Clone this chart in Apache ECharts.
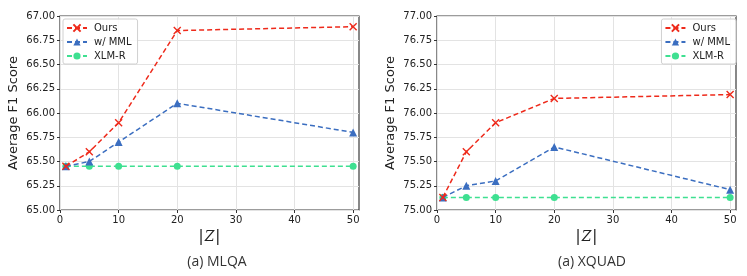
<!DOCTYPE html>
<html><head><meta charset="utf-8">
<script src="https://cdn.jsdelivr.net/npm/echarts@6/dist/echarts.min.js"></script>
<style>html,body{margin:0;padding:0;background:#fff}#c{width:747px;height:276px}</style>
</head><body><div id="c"></div>
<script>
const xValues = [1, 5, 10, 20, 50];
const mlqaOurs = [65.45, 65.60, 65.90, 66.85, 66.89];
const mlqaMML = [65.45, 65.50, 65.70, 66.10, 65.80];
const mlqaXLMR = [65.45, 65.45, 65.45, 65.45, 65.45];
const xquadOurs = [75.13, 75.60, 75.90, 76.15, 76.19];
const xquadMML = [75.13, 75.25, 75.30, 75.65, 75.21];
const xquadXLMR = [75.13, 75.13, 75.13, 75.13, 75.13];
const seriesNames = ['Ours', 'w/ MML', 'XLM-R'];
const captions = ['(a) MLQA', '(a) XQUAD'];
const xTicks = [0, 10, 20, 30, 40, 50];

const colors = ['#ee2a1b', '#3b6ec0', '#3ee091'];
const xPath = 'path://M0,0L10,10M10,0L0,10';
const symbols = [xPath, 'triangle', 'circle'];
const sizes = [7, 8, 7];

function pair(ys){ return xValues.map((x,i)=>[x, ys[i]]); }

const grids = [
  {left:60, top:16, width:299, height:194},
  {left:437, top:16, width:299, height:194}
];
const yRanges = [[65,67],[75,77]];
const data = [[mlqaOurs, mlqaMML, mlqaXLMR],[xquadOurs, xquadMML, xquadXLMR]];

const option = {
  animation:false,
  grid: grids.map(g=>Object.assign({show:true, borderColor:'#3a3a3a', borderWidth:1.2, backgroundColor:'transparent'}, g)),
  xAxis: grids.map((g,i)=>({
    type:'value', gridIndex:i, min:0, max:51, interval:10,
    name:'{b||}{z|Z}{b||}', nameLocation:'middle', nameGap:18,
    nameTextStyle:{rich:{
      b:{fontFamily:'DejaVu Sans', fontSize:15, color:'#222'},
      z:{fontFamily:'DejaVu Serif', fontStyle:'italic', fontSize:14, color:'#222', padding:[0,1,0,1]}
    }},
    axisLine:{show:false},
    axisTick:{show:true, length:3, lineStyle:{color:'#333'}, customValues:xTicks},
    axisLabel:{fontFamily:'DejaVu Sans', fontSize:10, color:'#222', margin:5, customValues:xTicks},
    splitLine:{show:true, lineStyle:{color:'#e3e3e3', width:1}}
  })),
  yAxis: grids.map((g,i)=>({
    type:'value', gridIndex:i, min:yRanges[i][0], max:yRanges[i][1], interval:0.25,
    name:'Average F1 Score', nameLocation:'middle', nameGap:40, nameRotate:90,
    nameTextStyle:{fontFamily:'DejaVu Sans', fontSize:13, color:'#222'},
    axisLine:{show:false},
    axisTick:{show:true, length:3, lineStyle:{color:'#333'}},
    axisLabel:{fontFamily:'DejaVu Sans', fontSize:10, color:'#222', margin:5, formatter:v=>v.toFixed(2)},
    splitLine:{show:true, lineStyle:{color:'#e3e3e3', width:1}}
  })),
  legend: [
    {left:63, top:19},
    {right:11, top:19}
  ].map((pos,i)=>Object.assign({
    data: seriesNames,
    orient:'vertical', itemWidth:20, itemHeight:9, itemGap:4,
    padding:[4,6,3,3], borderColor:'#d0d0d0', borderWidth:1, borderRadius:2,
    backgroundColor:'rgba(255,255,255,0.85)',
    textStyle:{fontFamily:'DejaVu Sans', fontSize:10, color:'#222', padding:[0,0,0,2]}
  }, pos)),
  title: captions.map((t,i)=>({
    text:t, left: i===0 ? 212 : 587, top:250, textAlign:'center',
    textStyle:{fontFamily:'Open Sans', fontSize:14, fontWeight:'normal', color:'#333'}
  })),
  series: []
};
data.forEach((set,gi)=>{
  set.forEach((ys,si)=>{
    option.series.push({
      type:'line', name:seriesNames[si], xAxisIndex:gi, yAxisIndex:gi,
      data:pair(ys), symbol:symbols[si], symbolSize:sizes[si],
      lineStyle:{color:colors[si], width:1.5, type:[5,3]},
      itemStyle: si===0 ? {color:'transparent', borderColor:colors[si], borderWidth:1.4} : {color:colors[si], borderWidth:0},
      z: 10-si
    });
  });
});
const chart = echarts.init(document.getElementById('c'), null, {renderer:'canvas'});
chart.setOption(option);
</script></body></html>
